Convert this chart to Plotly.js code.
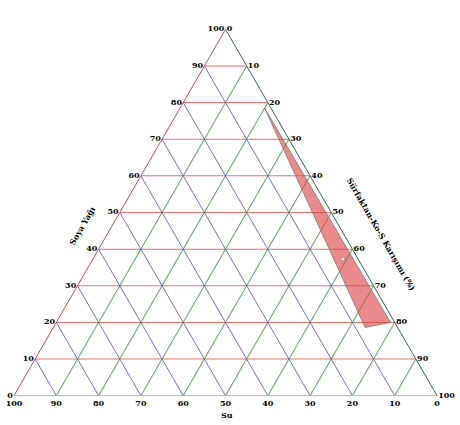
<!DOCTYPE html>
<html>
<head>
<meta charset="utf-8">
<script src="https://cdn.plot.ly/plotly-3.0.1.min.js"></script>
<style>html,body{margin:0;padding:0;background:#fff;}#chart{width:460px;height:425px;}</style>
</head>
<body>
<div id="chart"></div>
<script>
// Shaded region (Soya Yağı = a, Su = b, Sürfaktan-Ko-S = c), percent
const regionSoya = [78.5, 18.6, 20.0];
const regionSu = [1.5, 7.7, 1.0];
const regionSurf = [20.0, 73.7, 79.0];
// Single marked point
const pointSoya = [37.3];
const pointSu = [3.6];
const pointSurf = [59.1];
const tickVals = [0, 10, 20, 30, 40, 50, 60, 70, 80, 90, 100];
const tickText = tickVals.map(String);

const tickFont = {family: 'DejaVu Serif', size: 8, color: '#000', weight: 'bold'};

const traces = [
  {
    type: 'scatterternary', mode: 'lines',
    a: regionSoya.concat([regionSoya[0]]),
    b: regionSu.concat([regionSu[0]]),
    c: regionSurf.concat([regionSurf[0]]),
    fill: 'toself', fillcolor: 'rgba(222,60,60,0.6)',
    line: {color: 'rgba(120,120,120,0.8)', width: 1},
    hoverinfo: 'skip', showlegend: false
  },
  {
    type: 'scatterternary', mode: 'markers',
    a: pointSoya, b: pointSu, c: pointSurf,
    marker: {size: 4, color: '#f4f4e0', line: {color: '#888', width: 0.8}},
    showlegend: false
  }
];

function ax(lineColor, gridColor) {
  return {
    title: {text: ''},
    min: 0,
    tickmode: 'array', tickvals: tickVals, ticktext: tickText,
    ticks: '', ticklen: 0,
    tickfont: tickFont,
    linecolor: lineColor, linewidth: 1,
    gridcolor: gridColor, gridwidth: 1,
    showline: true, showgrid: true
  };
}

const layout = {
  width: 460, height: 425,
  margin: {l: 14, r: 23, t: 29, b: 29},
  paper_bgcolor: '#fff',
  showlegend: false,
  ternary: {
    sum: 100,
    bgcolor: '#fff',
    aaxis: ax('#d04a4a', 'rgba(245,70,70,0.8)'),
    baxis: ax('#aab0ff', 'rgba(60,60,255,0.75)'),
    caxis: ax('#2e6b50', 'rgba(40,140,40,0.75)')
  },
  annotations: [
    {text: 'Soya Yağı', x: 82, y: 226, xref: 'paper', yref: 'paper', showarrow: false, textangle: -60,
     font: {family: 'DejaVu Serif', size: 8, weight: 'bold', color: '#000'}},
    {text: 'Su', x: 227, y: 415, showarrow: false,
     font: {family: 'DejaVu Serif', size: 8, weight: 'bold', color: '#000'}},
    {text: 'Sürfaktan-Ko-S Karışımı (%)', x: 381, y: 234, showarrow: false, textangle: 60,
     font: {family: 'DejaVu Serif', size: 8, weight: 'bold', color: '#000'}}
  ]
};
// convert pixel positions of annotations to paper coords
const pw = 460 - 14 - 23, ph = 425 - 29 - 29;
layout.annotations.forEach(an => {
  an.xref = 'paper'; an.yref = 'paper';
  an.x = (an.x - 14) / pw;
  an.y = (425 - 29 - an.y) / ph;
  an.xanchor = 'center'; an.yanchor = 'middle';
});

Plotly.newPlot('chart', traces, layout, {displayModeBar: false, staticPlot: true});
</script>
</body>
</html>
